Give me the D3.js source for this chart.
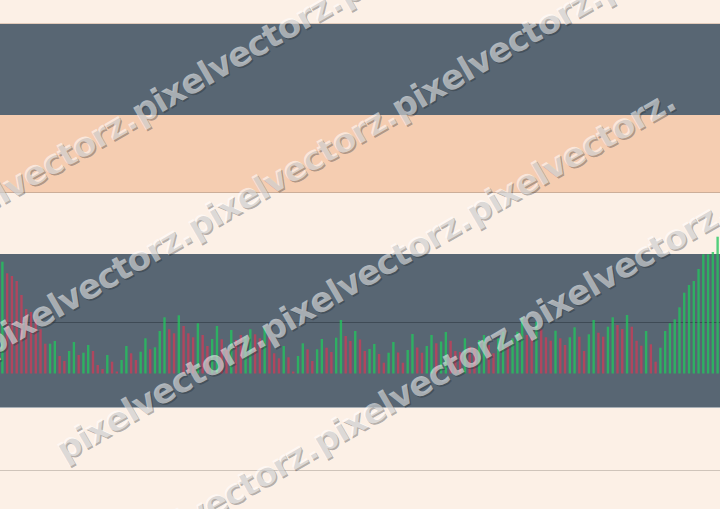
<!DOCTYPE html>
<html>
<head>
<meta charset="utf-8">
<script src="https://cdn.jsdelivr.net/npm/d3@7/dist/d3.min.js"></script>
<style>
  html, body { margin: 0; padding: 0; background: #fcf0e6; }
  svg { display: block; }
</style>
</head>
<body>
<svg id="chart" width="720" height="509"></svg>
<script>
// ---- data ----
const volumes = [
  111.8,100.2,97.5,92.5,78.5,64.5,61.5,54.5,44.2,29.8,
  29.8,32.5,17.5,12.5,22.5,31.5,18.5,20.8,28.5,22.5,
  8.5,4.5,18.5,11.8,2,13.5,27.5,20.2,13.5,21.8,
  35.2,24.2,26.2,42.5,56.2,44.2,40.2,58.2,47.5,40.2,
  36.2,50.2,38.5,27.5,34.5,47.5,34.2,23.5,43.5,33.5,
  38.5,36.8,44.2,39.2,35.2,46.2,36.8,20.2,15.2,27.5,
  16.2,2,17.5,30.2,24.2,12.5,24.2,34.5,25.8,21.5,
  35.8,53.5,37.5,32.5,42.5,34,22.5,24.5,29.5,19.5,
  10.8,20.8,31.5,21,10.8,23.5,39.5,26,20.8,27.5,
  38.5,30.2,32,41.5,32.7,22.5,21.5,35.2,26.8,25.2,
  33.5,38.5,28.5,20.2,35.2,41.8,26.8,35.2,41.8,55.8,
  38.5,36.2,51.8,44.2,36.2,32.8,42.8,35.2,28.5,36.2,
  46.2,36.8,22.5,39.2,53.5,40.8,36.8,46.8,56.2,48.5,
  44.5,58.5,46.8,32.8,27.8,42.5,29.2,11.8,25.8,42.5,
  50.2,54.2,66.2,80.8,88.5,92.5,104.5,119.2,119.2,121.5,
  136.8
];
const directions = (
  "GRRRRRRRRR" + "GGRRGGRGGR" + "RRGRRGGRRG" + "GRGGGRRGRR" + "RGRRGGRRGR" +
  "RGGRRGRRRG" + "RRGGRRGGRR" + "GGRRGRRGGR" + "RGGRRGGRRG" + "GRGGRRRGRR" +
  "GGRRGGRGGG" + "RRGRRRGRRG" + "GRRGGRRGGR" + "RGRRRGRRGG" + "GGGGGGGGGGG"
).split("");
const yDomain = [0, 120];
const watermarkText = "pixelvectorz.";

// ---- layout / style ----
const W = 720, H = 509;
const cream = "#fcf0e6", slate = "#586673", peach = "#f5cdb1";
const green = "#22c55e", red = "#c93d58";

const svg = d3.select("#chart");

const bands = [
  {y0: 0, y1: 23, c: cream},
  {y0: 23, y1: 115, c: slate},
  {y0: 115, y1: 192, c: peach},
  {y0: 192, y1: 254, c: cream},
  {y0: 254, y1: 408, c: slate},
  {y0: 408, y1: 509, c: cream}
];
svg.append("g").selectAll("rect").data(bands).join("rect")
  .attr("x", 0).attr("width", W)
  .attr("y", d => d.y0).attr("height", d => d.y1 - d.y0)
  .attr("fill", d => d.c);

const rules = [
  {y: 23.5, c: "#e2cbbb"},
  {y: 192.5, c: "#ccae99"},
  {y: 322.5, c: "#3e4a55"},
  {y: 407.5, c: "#a9b0b6"},
  {y: 470.5, c: "#cfc4ba"}
];
svg.append("g").selectAll("line").data(rules).join("line")
  .attr("x1", 0).attr("x2", W)
  .attr("y1", d => d.y).attr("y2", d => d.y)
  .attr("stroke", d => d.c).attr("stroke-width", 1);

// ---- bars ----
const x = d3.scaleBand()
  .domain(d3.range(volumes.length))
  .range([0, W])
  .paddingInner(0.5)
  .paddingOuter(0.25);
const y = d3.scaleLinear().domain(yDomain).range([373.5, 253.5]);

svg.append("g").selectAll("rect").data(volumes).join("rect")
  .attr("x", (d, i) => x(i))
  .attr("width", x.bandwidth())
  .attr("y", d => y(d))
  .attr("height", d => y(0) - y(d))
  .attr("fill", (d, i) => directions[i] === "G" ? green : red)
  .attr("fill-opacity", 0.78);

// ---- watermark ----
const tan = Math.tan(30 * Math.PI / 180);
const rows = [
  {y0: 206, xs: [-270, -65, 140, 345]},
  {y0: 352, xs: [-215, -10, 195, 400, 605]},
  {y0: 499, xs: [64, 269, 474]},
  {y0: 640, xs: [-89, 116, 321, 526]}
];
const marks = [];
rows.forEach(r => r.xs.forEach(px => marks.push({x: px, y: r.y0 - px * tan})));
const wm = svg.append("g")
  .style("font-family", "'DejaVu Sans', Verdana, sans-serif")
  .style("font-weight", "bold")
  .style("font-size", "34px")
  .style("letter-spacing", "-0.9px");
wm.selectAll("text.sh").data(marks).join("text")
  .attr("class", "sh")
  .attr("transform", d => `translate(${d.x + 1.5},${d.y + 1.5}) rotate(-30)`)
  .attr("fill", "rgba(30,35,40,0.33)")
  .text(watermarkText);
wm.selectAll("text.fg").data(marks).join("text")
  .attr("class", "fg")
  .attr("transform", d => `translate(${d.x},${d.y}) rotate(-30)`)
  .attr("fill", "rgba(255,255,255,0.55)")
  .text(watermarkText);
</script>
</body>
</html>
